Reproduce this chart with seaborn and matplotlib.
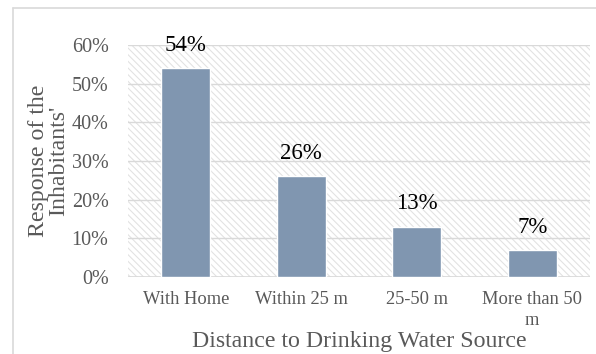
import matplotlib
matplotlib.use("Agg")
import matplotlib.pyplot as plt
import seaborn as sns
import pandas as pd
from matplotlib.patches import Rectangle
from matplotlib.lines import Line2D
from matplotlib.ticker import PercentFormatter

categories = ["With Home", "Within 25 m", "25-50 m", "More than 50\nm"]
values = [54, 26, 13, 7]
yticks = [0, 10, 20, 30, 40, 50, 60]

sns.set_theme(style="white")
plt.rcParams['font.family'] = ['Liberation Serif', 'DejaVu Serif']
plt.rcParams['hatch.color'] = '#E2E2E2'
plt.rcParams['hatch.linewidth'] = 0.8

W, H = 596, 354
fig = plt.figure(figsize=(W/100, H/100), dpi=100)
ax = fig.add_axes([128/W, 1-277/H, (590-128)/W, (277-45)/H])

df = pd.DataFrame({"cat": categories, "val": values})

# hatched background
bg = Rectangle((0, 0), 1, 1, transform=ax.transAxes, facecolor='white',
               edgecolor='#E2E2E2', hatch='\\\\\\\\\\', linewidth=0, zorder=0)
ax.add_patch(bg)

sns.barplot(data=df, x="cat", y="val", color="#8096B0", width=0.42,
            saturation=1, ax=ax, zorder=3)

for i, v in enumerate(values):
    ax.text(i, v + 3.2, f"{v}%", ha='center', va='bottom', fontsize=16.5, color='black', zorder=4)

ax.set_ylim(0, 60)
ax.set_xlim(-0.5, 3.5)
ax.set_yticks(yticks)
ax.yaxis.set_major_formatter(PercentFormatter(decimals=0))
ax.grid(axis='y', color='#D9D9D9', linewidth=1, zorder=1)
ax.set_axisbelow(True)
for s in ax.spines.values():
    s.set_visible(False)
ax.axhline(0, color='#D9D9D9', linewidth=1.2, zorder=2)
ax.tick_params(axis='y', labelsize=14.5, colors='#595959', length=0, pad=14)
ax.tick_params(axis='x', labelsize=13.3, colors='#595959', length=0, pad=10)
for lbl in ax.get_xticklabels():
    lbl.set_linespacing(1.35)
ax.set_xlabel("Distance to Drinking Water Source", fontsize=17.2, color='#595959', labelpad=1)
ax.set_ylabel("Response of the\nInhabitants'", fontsize=17.2, color='#595959', labelpad=2, linespacing=0.95)

# outer chart border
fig.add_artist(Line2D([13/W, 13/W], [0, 1-8/H], color='#D9D9D9', linewidth=1.2, transform=fig.transFigure))
fig.add_artist(Line2D([13/W, 1], [1-8/H, 1-8/H], color='#D9D9D9', linewidth=1.2, transform=fig.transFigure))

fig.savefig("out.png", dpi=100)
